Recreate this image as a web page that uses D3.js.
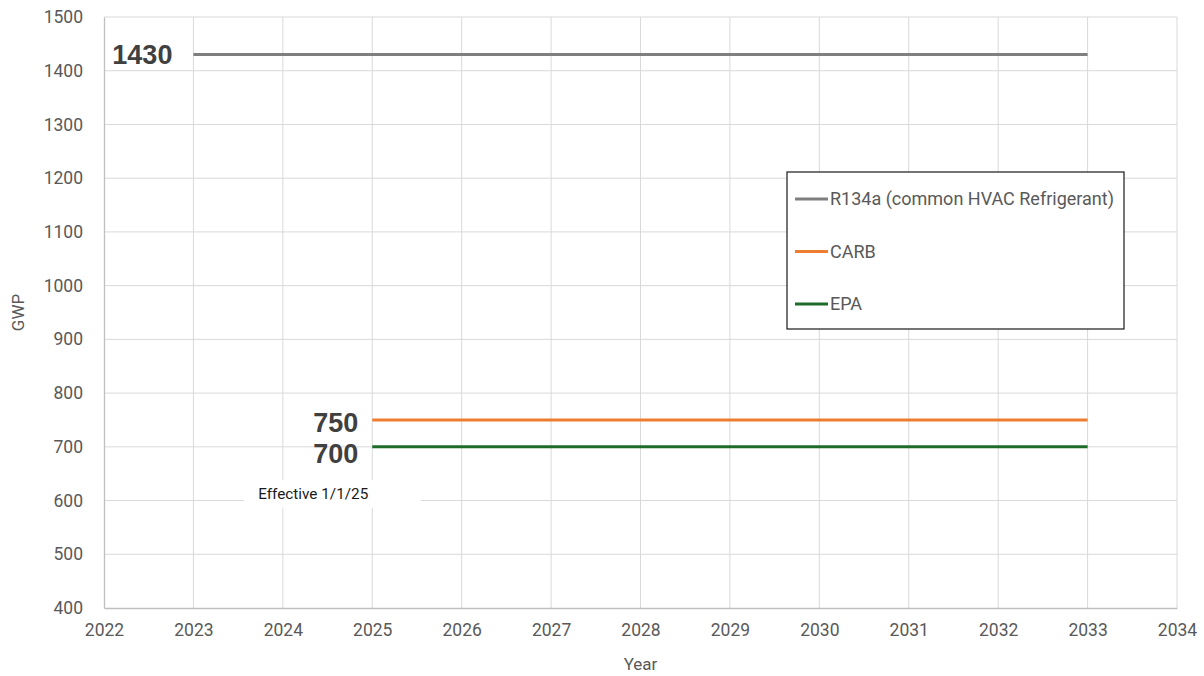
<!DOCTYPE html>
<html>
<head>
<meta charset="utf-8">
<script src="https://cdn.jsdelivr.net/npm/d3@7"></script>
<style>
  html, body { margin: 0; padding: 0; background: #fff; }
  svg { display: block; font-family: Roboto, "Liberation Sans", Arial, sans-serif; }
</style>
</head>
<body>
<svg id="chart" width="1204" height="676"></svg>
<script>
// Refrigerant GWP limits by year
const seriesNames = ["R134a (common HVAC Refrigerant)", "CARB", "EPA"];
const seriesColors = ["#7f7f7f", "#ed7d31", "#1e6b2a"];
const seriesStartYears = [2023, 2025, 2025];
const seriesEndYears = [2033, 2033, 2033];
const seriesValues = [1430, 750, 700];
const xTicks = [2022, 2023, 2024, 2025, 2026, 2027, 2028, 2029, 2030, 2031, 2032, 2033, 2034];
const yTicks = [400, 500, 600, 700, 800, 900, 1000, 1100, 1200, 1300, 1400, 1500];
const noteText = "Effective 1/1/25";
const noteYear = 2024.34;
const noteValue = 612;

const svg = d3.select("#chart");
const margin = { left: 104, right: 27, top: 17, bottom: 68 };
const W = 1204, H = 676;

const x = d3.scaleLinear().domain([2022, 2034]).range([margin.left, W - margin.right]);
const y = d3.scaleLinear().domain([400, 1500]).range([H - margin.bottom, margin.top]);

// gridlines
const grid = svg.append("g");
grid.selectAll("line.v").data(xTicks.slice(1)).join("line")
  .attr("x1", d => x(d)).attr("x2", d => x(d))
  .attr("y1", y(1500)).attr("y2", y(400))
  .attr("stroke", "#d9d9d9").attr("stroke-width", 1);
grid.selectAll("line.h").data(yTicks.slice(1)).join("line")
  .attr("x1", x(2022)).attr("x2", x(2034))
  .attr("y1", d => y(d)).attr("y2", d => y(d))
  .attr("stroke", "#d9d9d9").attr("stroke-width", 1);

// axes
const xAxis = svg.append("g").attr("transform", `translate(0,${y(400)})`)
  .call(d3.axisBottom(x).tickValues(xTicks).tickFormat(d3.format("d")).tickSize(0).tickPadding(17));
const yAxis = svg.append("g").attr("transform", `translate(${x(2022)},0)`)
  .call(d3.axisLeft(y).tickValues(yTicks).tickFormat(d3.format("d")).tickSize(0).tickPadding(21));
[xAxis, yAxis].forEach(a => {
  a.select(".domain").attr("stroke", "#bfbfbf").attr("stroke-width", 1.3);
  a.selectAll("text").attr("fill", "#595959").attr("font-size", 17.5)
    .attr("font-family", "Roboto, 'Liberation Sans', Arial, sans-serif");
});
xAxis.selectAll("text").attr("dy", "0.6em");

// axis titles
svg.append("text").attr("x", x(2028)).attr("y", 664).attr("dy", "0.35em")
  .attr("text-anchor", "middle").attr("fill", "#595959").attr("font-size", 17).text("Year");
svg.append("text").attr("transform", `translate(18,${(y(400) + y(1500)) / 2}) rotate(-90)`)
  .attr("dy", "0.35em")
  .attr("text-anchor", "middle").attr("fill", "#595959").attr("font-size", 17).text("GWP");

// series lines
const series = seriesNames.map((n, i) => ({
  name: n, color: seriesColors[i],
  pts: [[seriesStartYears[i], seriesValues[i]], [seriesEndYears[i], seriesValues[i]]]
}));
const line = d3.line().x(d => x(d[0])).y(d => y(d[1]));
svg.append("g").selectAll("path").data(series).join("path")
  .attr("d", d => line(d.pts)).attr("fill", "none")
  .attr("stroke", d => d.color).attr("stroke-width", 3);

// value labels
const labelDx = [-21, -14, -14];
const labelDy = [0, 2, 6];
svg.append("g").selectAll("text").data(series).join("text")
  .attr("x", (d, i) => x(seriesStartYears[i]) + labelDx[i])
  .attr("y", (d, i) => y(seriesValues[i]) + labelDy[i])
  .attr("dy", "0.36em").attr("text-anchor", "end")
  .attr("font-family", "'Liberation Sans', Arial, sans-serif")
  .attr("font-weight", "bold").attr("font-size", 27).attr("fill", "#404040")
  .text((d, i) => seriesValues[i]);

// note with white backing
const nx = x(noteYear), ny = y(noteValue);
svg.append("rect").attr("x", nx - 69).attr("y", ny - 14).attr("width", 177).attr("height", 28).attr("fill", "#fff");
svg.append("text").attr("x", nx).attr("y", ny).attr("dy", "0.35em")
  .attr("text-anchor", "middle").attr("font-size", 15.3).attr("fill", "#1a1a1a").text(noteText);

// legend
const lg = svg.append("g").attr("transform", "translate(787,172)");
lg.append("rect").attr("width", 337).attr("height", 157).attr("fill", "#fff")
  .attr("stroke", "#1a1a1a").attr("stroke-width", 1.2);
series.forEach((s, i) => {
  const ry = 27 + i * 52.5;
  lg.append("line").attr("x1", 8).attr("x2", 41).attr("y1", ry).attr("y2", ry)
    .attr("stroke", s.color).attr("stroke-width", 3);
  lg.append("text").attr("x", 43).attr("y", ry).attr("dy", "0.35em")
    .attr("font-size", 18).attr("fill", "#595959").text(s.name);
});
</script>
</body>
</html>
